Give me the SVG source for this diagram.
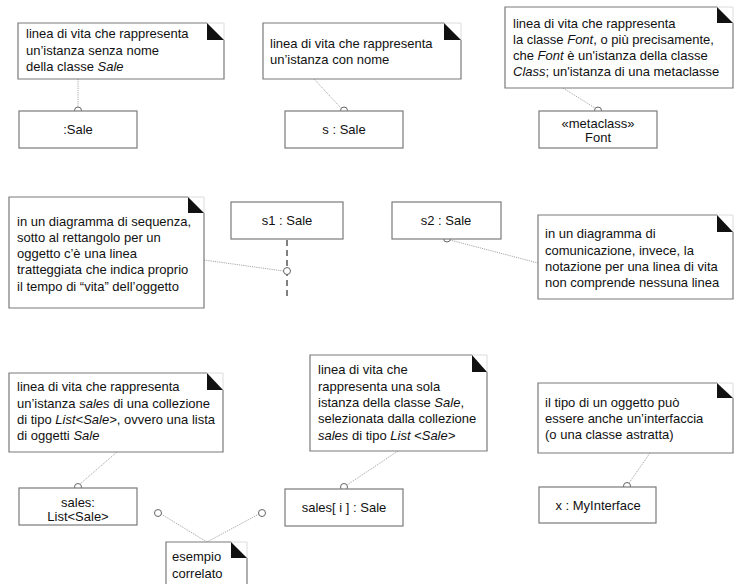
<svg xmlns="http://www.w3.org/2000/svg" width="743" height="584" viewBox="0 0 743 584">
<style>
text{font-family:"Liberation Sans",Arial,sans-serif;font-size:13px;fill:#111}
.c{text-anchor:middle}
.i{font-style:italic}
.box{fill:#fff;stroke:#7a7a7a;stroke-width:1.2}
.note{fill:#fff;stroke:#7a7a7a;stroke-width:1.2}
.faint{fill:none;stroke:#dcdcdc;stroke-width:1}
.ear{fill:#111}
.con{fill:none;stroke:#a8a8a8;stroke-width:1;stroke-dasharray:1.2 1}
.dot{fill:#fff;stroke:#666;stroke-width:1}
.life{stroke:#808080;stroke-width:2;stroke-dasharray:6 4}
</style>
<rect width="743" height="584" fill="#fff"/>

<g id="connectors">
<line class="con" x1="78" y1="79" x2="78" y2="107"/>
<line class="con" x1="314" y1="79" x2="341" y2="108"/>
<line class="con" x1="563" y1="88" x2="595" y2="108"/>
<line class="life" x1="287" y1="240" x2="287" y2="298"/>
<line class="con" x1="204" y1="260" x2="283.5" y2="271"/>
<line class="con" x1="450" y1="240" x2="538" y2="263"/>
<line class="con" x1="117" y1="452" x2="80" y2="484"/>
<line class="con" x1="161" y1="514" x2="207" y2="542"/>
<line class="con" x1="259" y1="514" x2="207" y2="542"/>
<line class="con" x1="398" y1="451" x2="347" y2="485"/>
<line class="con" x1="650" y1="453" x2="629" y2="483"/>
<circle class="dot" cx="78" cy="110.5" r="3.5"/>
<circle class="dot" cx="344" cy="110.5" r="3.5"/>
<circle class="dot" cx="598" cy="110.5" r="3.5"/>
<circle class="dot" cx="287" cy="271" r="3.5"/>
<circle class="dot" cx="447" cy="238.5" r="3.5"/>
<circle class="dot" cx="78" cy="487" r="3.5"/>
<circle class="dot" cx="158" cy="513" r="3.5"/>
<circle class="dot" cx="262" cy="513" r="3.5"/>
<circle class="dot" cx="344" cy="487" r="3.5"/>
<circle class="dot" cx="627" cy="486" r="3.5"/>
</g>

<g id="note1">
<path class="note" d="M207 23 H18 V79 H224 V40"/>
<path class="faint" d="M207 23 H224 V40"/>
<polygon class="ear" points="207,23 224,40 207,40"/>
<text x="26" y="38">linea di vita che rappresenta</text>
<text x="26" y="55">un’istanza senza nome</text>
<text x="26" y="71">della classe <tspan class="i">Sale</tspan></text>
</g>
<g id="sale">
<rect class="box" x="19" y="111" width="118" height="37"/>
<text class="c" x="78" y="134">:Sale</text>
</g>

<g id="note2">
<path class="note" d="M444 23 H263 V79 H461 V40"/>
<path class="faint" d="M444 23 H461 V40"/>
<polygon class="ear" points="444,23 461,40 444,40"/>
<text x="270" y="48">linea di vita che rappresenta</text>
<text x="270" y="64">un’istanza con nome</text>
</g>
<g id="s_sale">
<rect class="box" x="285" y="111" width="118" height="37"/>
<text class="c" x="344" y="134">s : Sale</text>
</g>

<g id="note3">
<path class="note" d="M717 7 H505 V88 H733 V23"/>
<path class="faint" d="M717 7 H733 V23"/>
<polygon class="ear" points="717,7 733,23 717,23"/>
<text x="513" y="28">linea di vita che rappresenta</text>
<text x="513" y="44">la classe <tspan class="i">Font</tspan>, o più precisamente,</text>
<text x="513" y="60">che <tspan class="i">Font</tspan> è un'istanza della classe</text>
<text x="513" y="76"><tspan class="i">Class</tspan>; un'istanza di una metaclasse</text>
</g>
<g id="font">
<rect class="box" x="539" y="111" width="118" height="37"/>
<text class="c" x="598" y="128">«metaclass»</text>
<text class="c" x="598" y="142">Font</text>
</g>

<g id="note4">
<path class="note" d="M188 197 H9 V308 H204 V213"/>
<path class="faint" d="M188 197 H204 V213"/>
<polygon class="ear" points="188,197 204,213 188,213"/>
<text x="17" y="226">in un diagramma di sequenza,</text>
<text x="17" y="242">sotto al rettangolo per un</text>
<text x="17" y="258">oggetto c’è una linea</text>
<text x="17" y="274">tratteggiata che indica proprio</text>
<text x="17" y="291">il tempo di “vita” dell’oggetto</text>
</g>
<g id="s1">
<rect class="box" x="231" y="202" width="112" height="37"/>
<text class="c" x="287" y="225">s1 : Sale</text>
</g>

<g id="s2">
<rect class="box" x="392" y="202" width="109" height="37"/>
<text class="c" x="446" y="225">s2 : Sale</text>
</g>
<g id="note5">
<path class="note" d="M717 215 H538 V299 H733 V232"/>
<path class="faint" d="M717 215 H733 V232"/>
<polygon class="ear" points="717,215 733,232 717,232"/>
<text x="545" y="238">in un diagramma di</text>
<text x="545" y="255">comunicazione, invece, la</text>
<text x="545" y="271">notazione per una linea di vita</text>
<text x="545" y="287">non comprende nessuna linea</text>
</g>

<g id="note6">
<path class="note" d="M207 373 H9 V452 H223 V390"/>
<path class="faint" d="M207 373 H223 V390"/>
<polygon class="ear" points="207,373 223,390 207,390"/>
<text x="17" y="391">linea di vita che rappresenta</text>
<text x="17" y="408">un’istanza <tspan class="i">sales</tspan> di una collezione</text>
<text x="17" y="424">di tipo <tspan class="i">List&lt;Sale&gt;</tspan>, ovvero una lista</text>
<text x="17" y="440">di oggetti <tspan class="i">Sale</tspan></text>
</g>
<g id="sales">
<rect class="box" x="19" y="488" width="118" height="37"/>
<text class="c" x="78" y="507">sales:</text>
<text class="c" x="78" y="521">List&lt;Sale&gt;</text>
</g>

<g id="note7">
<path class="note" d="M472 355 H310 V451 H487 V372"/>
<path class="faint" d="M472 355 H487 V372"/>
<polygon class="ear" points="472,355 487,372 472,372"/>
<text x="318" y="374">linea di vita che</text>
<text x="318" y="391">rappresenta una sola</text>
<text x="318" y="407">istanza della classe <tspan class="i">Sale</tspan>,</text>
<text x="318" y="423">selezionata dalla collezione</text>
<text x="318" y="440"><tspan class="i">sales</tspan> di tipo <tspan class="i">List &lt;Sale&gt;</tspan></text>
</g>
<g id="sales_i">
<rect class="box" x="285" y="489" width="118" height="37"/>
<text class="c" x="344" y="512">sales[ i ] : Sale</text>
</g>

<g id="note8">
<path class="note" d="M717 383 H538 V453 H733 V398"/>
<path class="faint" d="M717 383 H733 V398"/>
<polygon class="ear" points="717,383 733,398 717,398"/>
<text x="545" y="407">il tipo di un oggetto può</text>
<text x="545" y="423">essere anche un’interfaccia</text>
<text x="545" y="439">(o una classe astratta)</text>
</g>
<g id="myinterface">
<rect class="box" x="539" y="487" width="117" height="36"/>
<text class="c" x="598" y="510">x : MyInterface</text>
</g>

<g id="note9">
<path class="note" d="M231 542 H166 V590 M247 590 V558"/>
<path class="faint" d="M231 542 H247 V558"/>
<polygon class="ear" points="231,542 247,558 231,558"/>
<text x="172" y="561">esempio</text>
<text x="172" y="578">correlato</text>
</g>
</svg>
